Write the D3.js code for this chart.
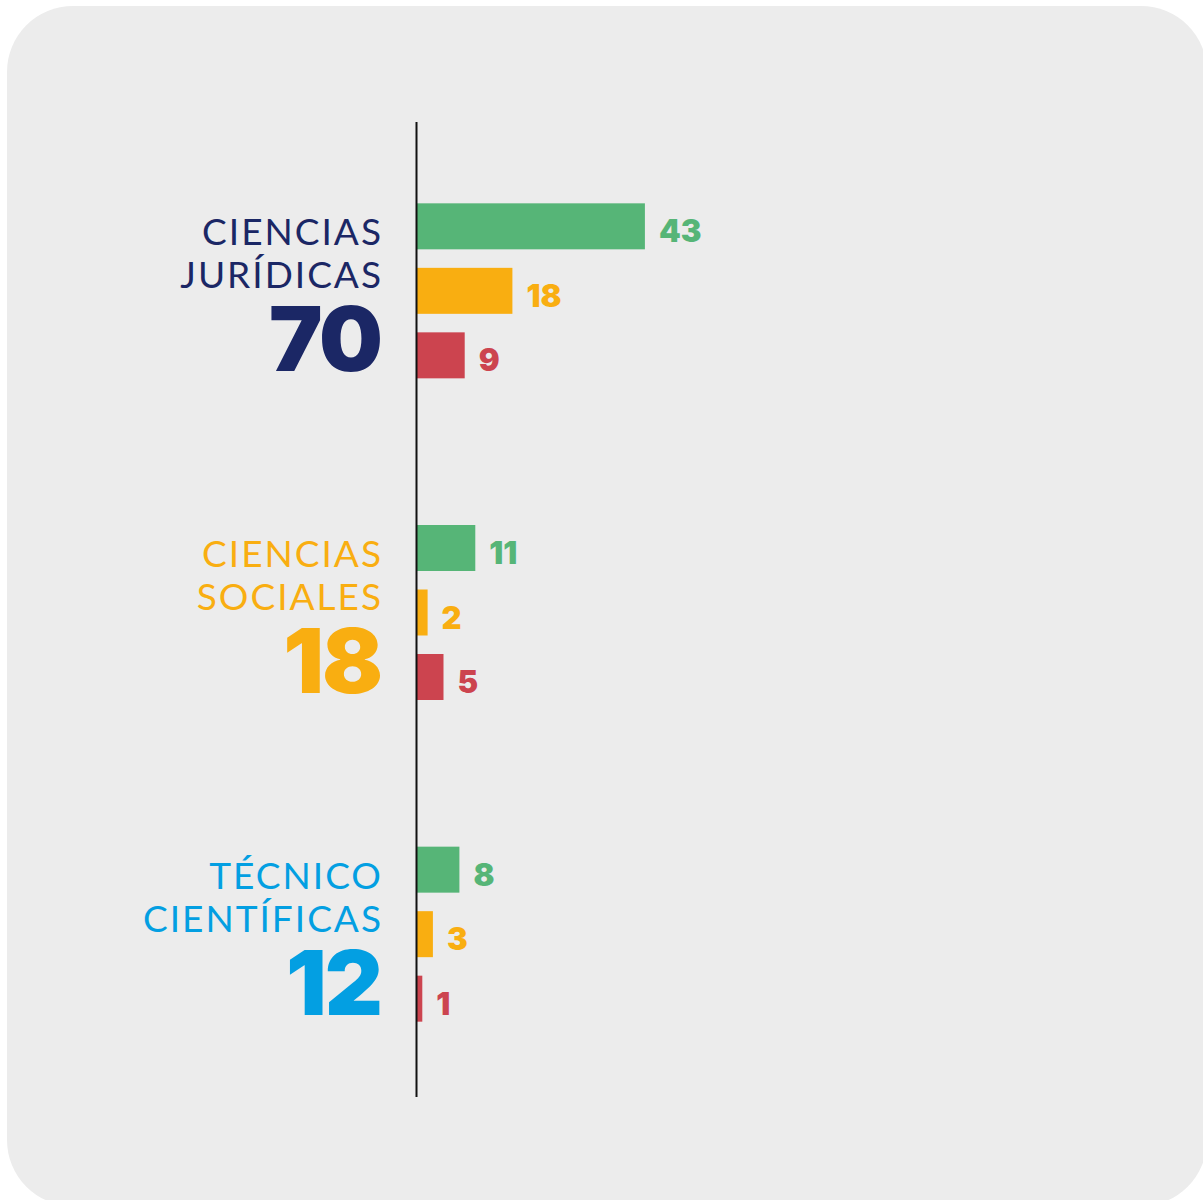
<!DOCTYPE html>
<html>
<head>
<meta charset="utf-8">
<script src="https://cdn.jsdelivr.net/npm/d3@7"></script>
<style>
  html, body { margin: 0; padding: 0; background: #ffffff; }
</style>
</head>
<body>
<div id="chart"></div>
<script>
// Data
const areas = ["CIENCIAS JURÍDICAS", "CIENCIAS SOCIALES", "TÉCNICO CIENTÍFICAS"];
const areaLines = [["CIENCIAS", "JURÍDICAS"], ["CIENCIAS", "SOCIALES"], ["TÉCNICO", "CIENTÍFICAS"]];
const areaTotals = [70, 18, 12];
const series = ["verde", "amarillo", "rojo"];
const verdeValues = [43, 11, 8];
const amarilloValues = [18, 2, 3];
const rojoValues = [9, 5, 1];

const seriesValues = {verde: verdeValues, amarillo: amarilloValues, rojo: rojoValues};
const seriesColor = {verde: "#56b577", amarillo: "#f9ae11", rojo: "#cc444f"};
const areaColor = ["#1b2765", "#f9ae11", "#039fe2"];

// Dimensions
const width = 1203, height = 1200;
const axisX = 417;

const svg = d3.select("#chart")
  .append("svg")
    .attr("width", width)
    .attr("height", height);

// panel background
svg.append("rect")
  .attr("x", 7)
  .attr("y", 6)
  .attr("width", 1200)
  .attr("height", 1200)
  .attr("rx", 66)
  .attr("fill", "#ececec");

// Scales
const x = d3.scaleLinear()
  .domain([0, 100])
  .range([axisX, axisX + 530]);

const y = d3.scaleBand()
  .domain(areas)
  .range([130, 1095]);

const yInner = d3.scaleBand()
  .domain(series)
  .range([0, 175])
  .paddingInner(0.287);

const groups = svg.selectAll(".area")
  .data(areas)
  .enter()
  .append("g")
    .attr("class", "area")
    .attr("transform", d => `translate(0, ${y(d) + y.bandwidth() / 2 - 87.5})`);

// bars
series.forEach(function(s) {
  groups.append("rect")
    .attr("x", x(0))
    .attr("y", yInner(s))
    .attr("width", (d, i) => x(seriesValues[s][i]) - x(0))
    .attr("height", yInner.bandwidth())
    .attr("fill", seriesColor[s]);

  groups.append("text")
    .attr("x", (d, i) => x(seriesValues[s][i]) + 14)
    .attr("y", yInner(s) + yInner.bandwidth() / 2 + 16)
    .style("font-family", "Inter, Roboto, sans-serif")
    .style("font-weight", 900)
    .style("font-size", "31px")
    .style("fill", seriesColor[s])
    .text((d, i) => seriesValues[s][i]);
});

// area labels
groups.each(function(d, i) {
  const g = d3.select(this);
  areaLines[i].forEach(function(line, j) {
    g.append("text")
      .attr("x", 383)
      .attr("y", 42 + j * 43)
      .attr("text-anchor", "end")
      .style("font-family", "Lato, 'Open Sans', sans-serif")
      .style("font-weight", 400)
      .style("font-size", "37px")
      .style("letter-spacing", "2px")
      .style("fill", areaColor[i])
      .text(line);
  });
  g.append("text")
    .attr("x", 381)
    .attr("y", 168)
    .attr("text-anchor", "end")
    .style("font-family", "Inter, Roboto, sans-serif")
    .style("font-weight", 900)
    .style("font-size", "90px")
    .style("letter-spacing", "-2px")
    .style("fill", areaColor[i])
    .text(areaTotals[i]);
});

// vertical axis line
svg.append("line")
  .attr("x1", axisX - 0.5)
  .attr("x2", axisX - 0.5)
  .attr("y1", 122)
  .attr("y2", 1097)
  .attr("stroke", "#111")
  .attr("stroke-width", 2);
</script>
</body>
</html>
